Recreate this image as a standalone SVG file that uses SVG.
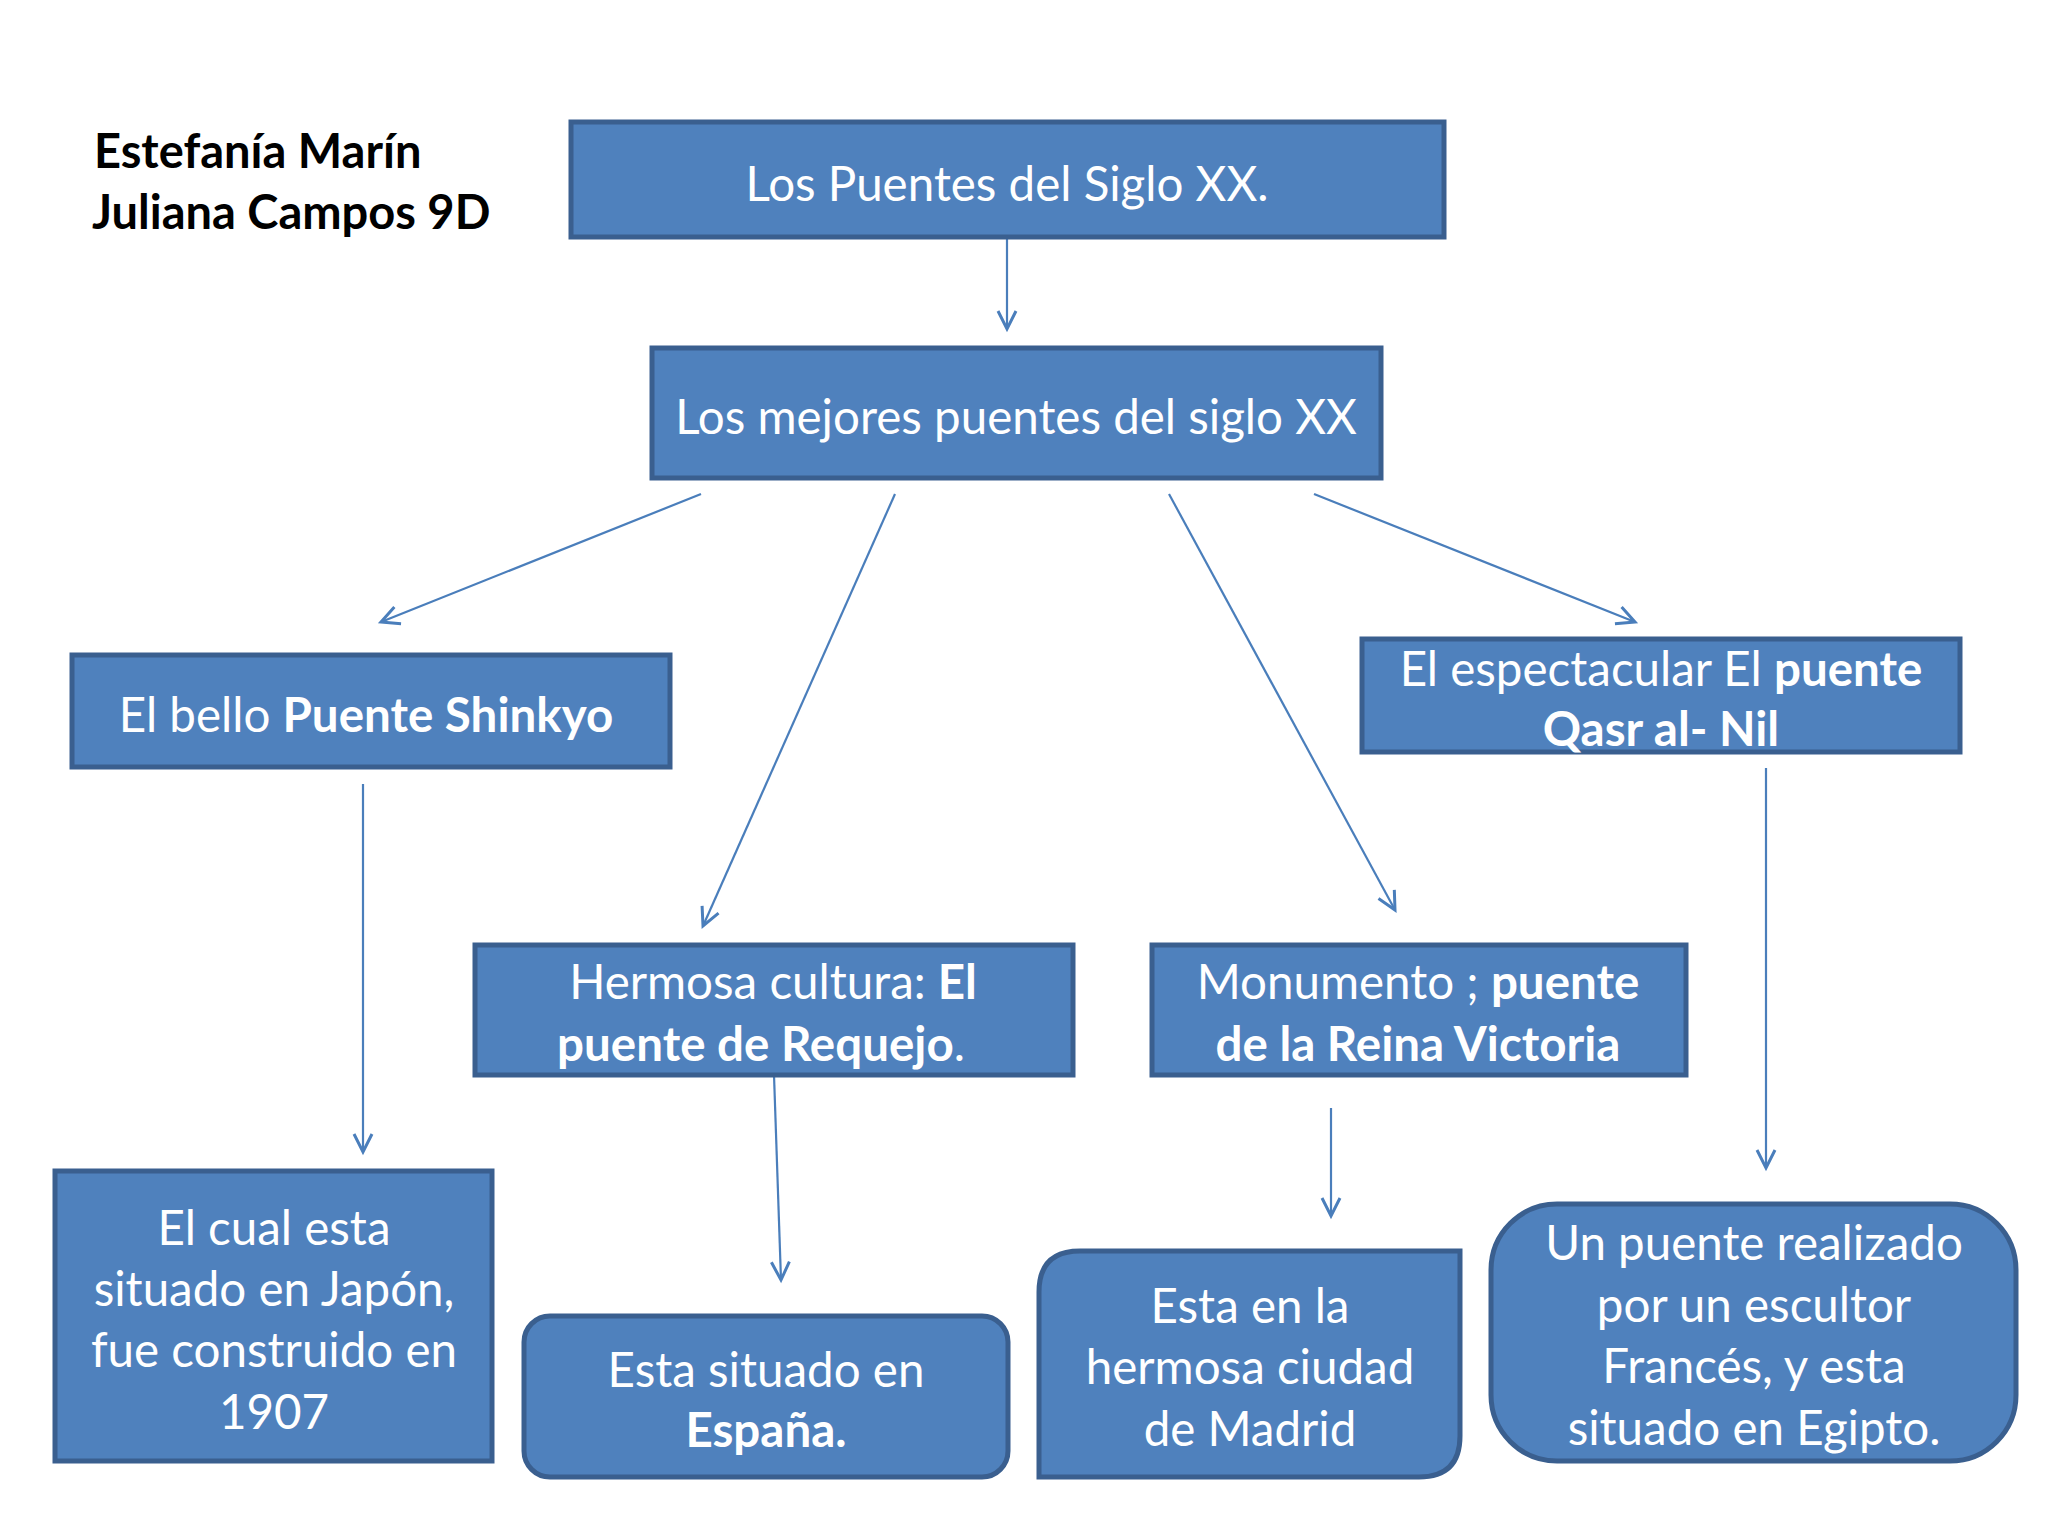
<svg xmlns="http://www.w3.org/2000/svg" width="2048" height="1536" viewBox="0 0 2048 1536">
<style>
.box{fill:#4F81BD;stroke:#3A5F8F;stroke-width:5}
.t{font-family:Lato,"Open Sans","Noto Sans",sans-serif;font-size:47.5px;fill:#FFFFFF;text-anchor:middle}
.b{font-weight:bold}
.auth{font-family:Lato,"Open Sans","Noto Sans",sans-serif;font-size:47px;font-weight:bold;fill:#000000}
.c{stroke:#4A7EBB;stroke-width:2.2;fill:none;marker-end:url(#ah)}
</style>
<defs>
<marker id="ah" markerUnits="userSpaceOnUse" markerWidth="24" markerHeight="24" refX="20" refY="10" orient="auto" viewBox="0 0 24 20">
<path d="M2,1 L20,10 L2,19" fill="none" stroke="#4A7EBB" stroke-width="3"/>
</marker>
</defs>
<rect width="2048" height="1536" fill="#FFFFFF"/>
<g id="authors">
<text class="auth" x="94" y="168">Estefanía Marín</text>
<text class="auth" x="92" y="229">Juliana Campos 9D</text>
</g>
<g id="connectors">
<line class="c" x1="1007" y1="238" x2="1007" y2="329"/>
<line class="c" x1="701" y1="494" x2="381" y2="622"/>
<line class="c" x1="895" y1="494" x2="703" y2="926"/>
<line class="c" x1="1169" y1="494" x2="1395" y2="910"/>
<line class="c" x1="1314" y1="494" x2="1635" y2="622"/>
<line class="c" x1="363" y1="784" x2="363" y2="1152"/>
<line class="c" x1="1766" y1="768" x2="1766" y2="1168"/>
<line class="c" x1="774" y1="1075" x2="781" y2="1280"/>
<line class="c" x1="1331" y1="1108" x2="1331" y2="1216"/>
</g>
<g id="n1">
<rect class="box" x="571" y="122" width="873" height="115"/>
<text class="t" x="1007" y="201">Los Puentes del Siglo XX.</text>
</g>
<g id="n2">
<rect class="box" x="652" y="348" width="729" height="130"/>
<text class="t" x="1016" y="434">Los mejores puentes del siglo XX</text>
</g>
<g id="n3">
<rect class="box" x="72" y="655" width="598" height="112"/>
<text class="t" x="366" y="732">El bello <tspan class="b">Puente Shinkyo</tspan></text>
</g>
<g id="n4">
<rect class="box" x="1362" y="639" width="598" height="113"/>
<text class="t" x="1661" y="686">El espectacular El <tspan class="b">puente</tspan></text>
<text class="t b" x="1661" y="746">Qasr al- Nil</text>
</g>
<g id="n5">
<rect class="box" x="475" y="945" width="598" height="130"/>
<text class="t" x="773" y="999">Hermosa cultura: <tspan class="b">El</tspan></text>
<text class="t" x="761" y="1061"><tspan class="b">puente de Requejo</tspan>.</text>
</g>
<g id="n6">
<rect class="box" x="1152" y="945" width="534" height="130"/>
<text class="t" x="1418" y="999">Monumento ; <tspan class="b">puente</tspan></text>
<text class="t b" x="1418" y="1061">de la Reina Victoria</text>
</g>
<g id="n7">
<rect class="box" x="55" y="1171" width="437" height="290"/>
<text class="t" x="274" y="1245">El cual esta</text>
<text class="t" x="274" y="1306">situado en Japón,</text>
<text class="t" x="274" y="1367">fue construido en</text>
<text class="t" x="274" y="1429">1907</text>
</g>
<g id="n8">
<rect class="box" x="524" y="1316" width="484" height="161" rx="26" ry="26"/>
<text class="t" x="766" y="1387">Esta situado en</text>
<text class="t b" x="766" y="1447">España.</text>
</g>
<g id="n9">
<path class="box" d="M1080,1251 L1460,1251 L1460,1436 Q1460,1477 1419,1477 L1039,1477 L1039,1292 Q1039,1251 1080,1251 Z"/>
<text class="t" x="1250" y="1323">Esta en la</text>
<text class="t" x="1250" y="1384">hermosa ciudad</text>
<text class="t" x="1250" y="1446">de Madrid</text>
</g>
<g id="n10">
<rect class="box" x="1491" y="1204" width="525" height="257" rx="66" ry="66"/>
<text class="t" x="1754" y="1260">Un puente realizado</text>
<text class="t" x="1754" y="1322">por un escultor</text>
<text class="t" x="1754" y="1383">Francés, y esta</text>
<text class="t" x="1754" y="1445">situado en Egipto.</text>
</g>
</svg>
